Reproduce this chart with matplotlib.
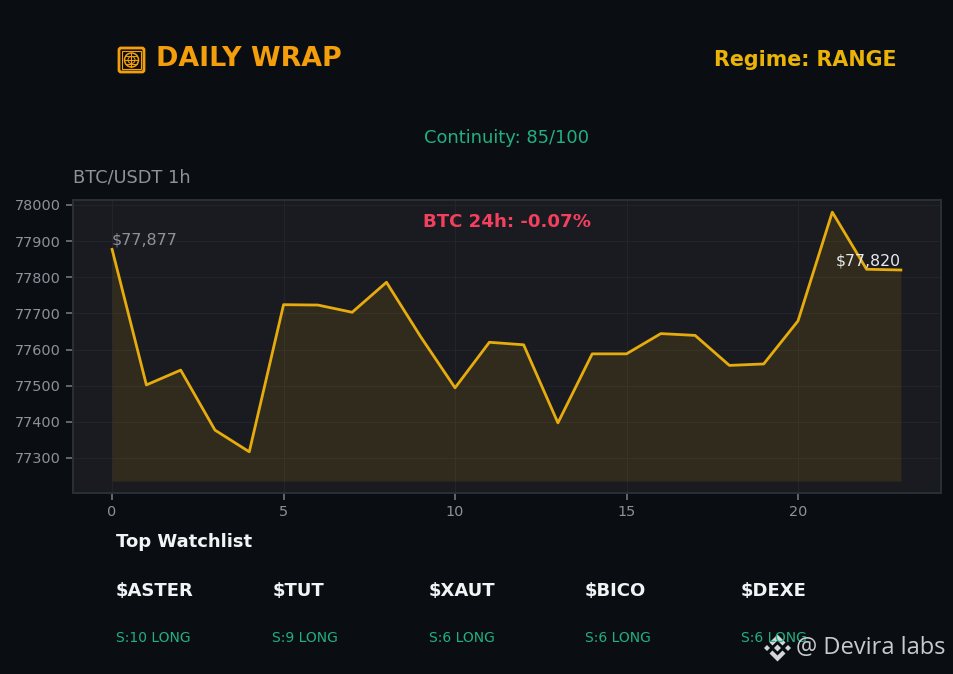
import matplotlib
matplotlib.use('Agg')
import matplotlib.pyplot as plt
from matplotlib.patches import Circle, FancyBboxPatch, Polygon, Rectangle

hours = list(range(24))
prices = [77877, 77502, 77543, 77377, 77317, 77724, 77723, 77703, 77786, 77635, 77494, 77620,
          77613, 77397, 77588, 77588, 77644, 77639, 77556, 77560, 77679, 77980, 77822, 77820]
fill_floor = 77236
yticks = [77300, 77400, 77500, 77600, 77700, 77800, 77900, 78000]
xticks = [0, 5, 10, 15, 20]
symbols = ['$ASTER', '$TUT', '$XAUT', '$BICO', '$DEXE']
scores = ['S:10 LONG', 'S:9 LONG', 'S:6 LONG', 'S:6 LONG', 'S:6 LONG']

BG = '#0a0e12'
ORANGE = '#f59e0b'
GOLD = '#eab308'
GREEN = '#22b07f'
GREY = '#8b929a'
W, H = 954, 674

fig = plt.figure(figsize=(W / 100, H / 100), dpi=100, facecolor=BG)


def put(x, y, s, **kw):
    # x, y in pixels from the top left
    fig.text(x / W, 1 - y / H, s, va='center', **kw)


# main chart
ax = fig.add_axes([73 / W, 1 - 493 / H, (941 - 73) / W, (493 - 199.5) / H], facecolor='#1a1b20')
ax.fill_between(hours, prices, fill_floor, color=GOLD, alpha=0.11, linewidth=0)
ax.plot(hours, prices, color='#e6ab0c', linewidth=2.0)
ax.set_xlim(-1.14, 24.17)
ax.set_ylim(77203, 78015)
ax.set_xticks(xticks)
ax.set_yticks(yticks)
ax.grid(True, color='#2a2d33', linewidth=0.6, alpha=0.6)
ax.set_axisbelow(True)
ax.tick_params(colors='#6f767e', labelcolor=GREY, labelsize=10.4, length=5, width=1.2)
for spine in ax.spines.values():
    spine.set_color('#2b3036')
    spine.set_linewidth(1.4)

ax.text(0, 77877 + 5, '$77,877', color=GREY, fontsize=11.4, va='bottom', ha='left')
ax.text(23, 77820 + 5, '$77,820', color='#e8eaed', fontsize=11.3, va='bottom', ha='right')
ax.text(0.5, 0.923, 'BTC 24h: -0.07%', transform=ax.transAxes, color='#f43f5e', fontsize=13.1,
        fontweight='bold', ha='center', va='center')

# header
put(156, 59, 'DAILY WRAP', color=ORANGE, fontsize=19.4, fontweight='bold')
put(897, 59.5, 'Regime: RANGE', color=GOLD, fontsize=14.9, fontweight='bold', ha='right')
put(507, 138, 'Continuity: 85/100', color=GREEN, fontsize=12.9, ha='center')
put(73, 178, 'BTC/USDT 1h', color=GREY, fontsize=12.8)

# header icon, pixel coordinates in a full figure overlay
over = fig.add_axes([0, 0, 1, 1], facecolor='none')
over.set_xlim(0, W)
over.set_ylim(H, 0)
over.axis('off')
over.add_patch(FancyBboxPatch((119, 48), 25, 24, boxstyle='round,pad=0,rounding_size=2',
                              fill=False, edgecolor=ORANGE, linewidth=2))
over.add_patch(Rectangle((122, 51), 19, 18, fill=False, edgecolor=ORANGE, linewidth=0.8))
over.add_patch(Circle((131.5, 60), 7, fill=False, edgecolor=ORANGE, linewidth=1.1))
over.plot([124.5, 138.5], [60, 60], color=ORANGE, linewidth=0.8)
over.plot([131.5, 131.5], [53, 67], color=ORANGE, linewidth=0.8)
over.plot([126, 137], [56, 56], color=ORANGE, linewidth=0.7)
over.plot([126, 137], [64, 64], color=ORANGE, linewidth=0.7)
over.add_patch(Circle((131.5, 60), 3.5, fill=False, edgecolor=ORANGE, linewidth=0.7))

# watchlist
put(116, 542, 'Top Watchlist', color='#f1f3f5', fontsize=13, fontweight='bold')
for x, sym, score in zip([116, 272.5, 429, 585, 741], symbols, scores):
    put(x, 590.5, sym, color='#f1f3f5', fontsize=13, fontweight='bold')
    put(x, 638.5, score, color=GREEN, fontsize=10)

# watermark
mark = '#d4d6d9'
cx, cy = 777.5, 648
for dx, dy, r in [(-10.5, 0, 3), (10.5, 0, 3), (0, 0, 3.5)]:
    over.add_patch(Polygon([(cx + dx - r, cy + dy), (cx + dx, cy + dy - r),
                            (cx + dx + r, cy + dy), (cx + dx, cy + dy + r)], color=mark, linewidth=0))
over.add_patch(Polygon([(cx - 8, cy - 5.5), (cx, cy - 13.5), (cx + 8, cy - 5.5), (cx + 5, cy - 2.5),
                        (cx, cy - 7.5), (cx - 5, cy - 2.5)], color=mark, linewidth=0))
over.add_patch(Polygon([(cx - 8, cy + 5.5), (cx, cy + 13.5), (cx + 8, cy + 5.5), (cx + 5, cy + 2.5),
                        (cx, cy + 7.5), (cx - 5, cy + 2.5)], color=mark, linewidth=0))
put(796, 648.5, '@ Devira labs', color='#c8cacd', fontsize=17, family='Open Sans')

fig.savefig('out.png', dpi=100, facecolor=BG)
